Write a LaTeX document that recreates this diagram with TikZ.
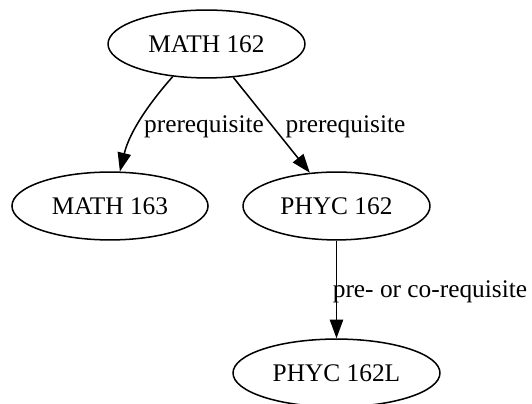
\documentclass[tikz,border=0pt]{standalone}
\usepackage{fontspec}
\setmainfont{Liberation Serif}
\usetikzlibrary{arrows.meta,shapes.geometric}
\tikzset{
  course/.style={draw=black,ellipse,line width=0.85pt,inner sep=0pt,
                 minimum height=38pt,font=\fontsize{14.2}{16}\selectfont},
  edge/.style={-{Triangle[length=10.5pt,width=7.5pt]},line width=0.85pt},
  lab/.style={font=\fontsize{14.2}{16}\selectfont,inner sep=0pt},
}

\begin{document}
\begin{tikzpicture}[x=0.56pt,y=-0.56pt]
  \path[use as bounding box] (0,0) rectangle (532,404);

  \node[course,minimum width=110.3pt] (math162) at (206.5,44) {MATH 162};
  \node[course,minimum width=109.8pt] (math163) at (110,206) {MATH 163};
  \node[course,minimum width=104.7pt] (phyc162) at (336.5,206) {PHYC 162};
  \node[course,minimum width=115.9pt] (phyc162l) at (336.5,373) {PHYC 162L};

  \draw[edge] (math162.224) .. controls (152,100) and (130,130) .. (math163.74);
  \draw[edge] (math162) -- (phyc162);
  \draw[edge] (phyc162) -- (phyc162l);

  \node[lab] (req1) at (204,127) {prerequisite};
  \node[lab] (req2) at (345.5,127) {prerequisite};
  \node[lab] (coreq) at (430,292) {pre- or co-requisite};
\end{tikzpicture}
\end{document}
